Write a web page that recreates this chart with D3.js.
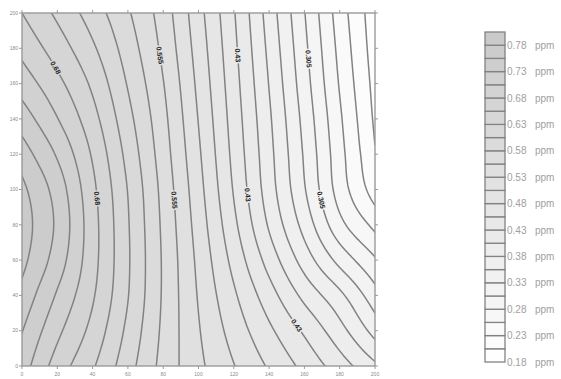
<!DOCTYPE html>
<html>
<head>
<meta charset="utf-8">
<script src="https://cdn.jsdelivr.net/npm/d3@7"></script>
<style>
  html, body { margin: 0; padding: 0; background: #fff; }
  svg { display: block; font-family: Arial, "Liberation Sans", sans-serif; }
</style>
</head>
<body>
<svg id="chart" width="561" height="379"></svg>
<script>
// Grid coordinates of the measured concentration field
const xValues = [0, 20, 40, 60, 80, 100, 120, 140, 160, 180, 200];
const yValues = [200, 180, 160, 140, 120, 100, 80, 60, 40, 20, 0];

// Concentration (ppm) at each grid node, one row per y value (top row first)
const row200 = [0.680, 0.650, 0.618, 0.583, 0.543, 0.489, 0.432, 0.369, 0.306, 0.243, 0.190];
const row180 = [0.698, 0.668, 0.634, 0.593, 0.549, 0.494, 0.436, 0.374, 0.311, 0.248, 0.193];
const row160 = [0.719, 0.687, 0.650, 0.603, 0.556, 0.499, 0.440, 0.379, 0.316, 0.253, 0.197];
const row140 = [0.743, 0.706, 0.664, 0.613, 0.562, 0.504, 0.444, 0.384, 0.322, 0.259, 0.201];
const row120 = [0.767, 0.727, 0.677, 0.622, 0.567, 0.509, 0.448, 0.388, 0.327, 0.264, 0.207];
const row100 = [0.786, 0.744, 0.686, 0.629, 0.572, 0.514, 0.453, 0.392, 0.332, 0.269, 0.218];
const row080 = [0.792, 0.750, 0.690, 0.632, 0.575, 0.519, 0.461, 0.402, 0.346, 0.288, 0.248];
const row060 = [0.787, 0.743, 0.689, 0.633, 0.577, 0.524, 0.472, 0.420, 0.369, 0.322, 0.283];
const row040 = [0.772, 0.727, 0.683, 0.631, 0.577, 0.528, 0.484, 0.441, 0.398, 0.361, 0.315];
const row020 = [0.756, 0.711, 0.672, 0.624, 0.575, 0.532, 0.495, 0.460, 0.426, 0.389, 0.346];
const row000 = [0.742, 0.694, 0.658, 0.615, 0.572, 0.536, 0.506, 0.477, 0.448, 0.417, 0.385];
const ppm = [row200, row180, row160, row140, row120, row100, row080, row060, row040, row020, row000];

// Contour levels (ppm); the last value closes the top band
const levels = [0.18, 0.205, 0.23, 0.255, 0.28, 0.305, 0.33, 0.355, 0.38, 0.405, 0.43,
                0.455, 0.48, 0.505, 0.53, 0.555, 0.58, 0.605, 0.63, 0.655, 0.68, 0.705,
                0.73, 0.755, 0.78, 0.805];

// Legend labels (every second level)
const legendValues = [0.78, 0.73, 0.68, 0.63, 0.58, 0.53, 0.48, 0.43, 0.38, 0.33, 0.28, 0.23, 0.18];
const legendText = ["0.78", "0.73", "0.68", "0.63", "0.58", "0.53", "0.48", "0.43", "0.38", "0.33", "0.28", "0.23", "0.18"];

// Axis ticks
const xTicks = [0, 20, 40, 60, 80, 100, 120, 140, 160, 180, 200];
const yTicks = [0, 20, 40, 60, 80, 100, 120, 140, 160, 180, 200];

// Labelled contours: level and the y position along the line where the label sits
const contourLabels = [
  { level: 0.68,  text: "0.68",  y: 169 },
  { level: 0.555, text: "0.555", y: 176 },
  { level: 0.43,  text: "0.43",  y: 176 },
  { level: 0.305, text: "0.305", y: 174 },
  { level: 0.68,  text: "0.68",  y: 95 },
  { level: 0.555, text: "0.555", y: 94 },
  { level: 0.43,  text: "0.43",  y: 97 },
  { level: 0.305, text: "0.305", y: 94 },
  { level: 0.43,  text: "0.43",  y: 23 }
];

const svg = d3.select("#chart");

const plot = { left: 22, right: 375, top: 13, bottom: 366 };
const x = d3.scaleLinear().domain([0, 200]).range([plot.left, plot.right]);
const y = d3.scaleLinear().domain([0, 200]).range([plot.bottom, plot.top]);

const fill = d3.scaleLinear().domain([0.18, 0.805]).range(["#ffffff", "#c9c9c9"]);
const bandColor = v => fill(v);

// --- smooth sampling of the grid (Catmull-Rom in both directions) ---
const nCols = xValues.length, nRows = yValues.length;
const gStep = xValues[1] - xValues[0];
function node(r, c) {
  if (c < 0) return 2 * node(r, 0) - node(r, 1);
  if (c > nCols - 1) return 2 * node(r, nCols - 1) - node(r, nCols - 2);
  if (r < 0) return 2 * node(0, c) - node(1, c);
  if (r > nRows - 1) return 2 * node(nRows - 1, c) - node(nRows - 2, c);
  return ppm[r][c];
}
function cr(p0, p1, p2, p3, t) {
  return p1 + 0.5 * t * (p2 - p0 + t * (2 * p0 - 5 * p1 + 4 * p2 - p3 + t * (3 * (p1 - p2) + p3 - p0)));
}
function field(xd, yd) {
  const gx = (xd - xValues[0]) / gStep;
  const gy = (yValues[0] - yd) / gStep;
  const ix = Math.max(0, Math.min(nCols - 2, Math.floor(gx)));
  const iy = Math.max(0, Math.min(nRows - 2, Math.floor(gy)));
  const tx = gx - ix, ty = gy - iy;
  const rows = [];
  for (let k = -1; k <= 2; k++) {
    rows.push(cr(node(iy + k, ix - 1), node(iy + k, ix), node(iy + k, ix + 1), node(iy + k, ix + 2), tx));
  }
  return cr(rows[0], rows[1], rows[2], rows[3], ty);
}

// fine raster for the contour generator
const N = 201, d = 200 / (N - 1);
const values = new Float64Array(N * N);
for (let r = 0; r < N; r++) {
  for (let c = 0; c < N; c++) {
    values[r * N + c] = field(c * d, 200 - r * d);
  }
}
const proj = d3.geoTransform({
  point(gx, gy) { this.stream.point(x((gx - 0.5) * d), y(200 - (gy - 0.5) * d)); }
});
const path = d3.geoPath(proj);
const contours = d3.contours().size([N, N]);

svg.append("clipPath").attr("id", "plotClip")
  .append("rect")
  .attr("x", plot.left).attr("y", plot.top)
  .attr("width", plot.right - plot.left).attr("height", plot.bottom - plot.top);

const g = svg.append("g").attr("clip-path", "url(#plotClip)");
g.append("rect")
  .attr("x", plot.left).attr("y", plot.top)
  .attr("width", plot.right - plot.left).attr("height", plot.bottom - plot.top)
  .attr("fill", "#ffffff");

const bandLevels = levels.slice(0, -1);
bandLevels.forEach((t, i) => {
  const geom = contours.contour(values, t);
  g.append("path").attr("d", path(geom))
    .attr("fill", bandColor((t + levels[i + 1]) / 2))
    .attr("stroke", "none");
});
bandLevels.forEach(t => {
  const geom = contours.contour(values, t);
  g.append("path").attr("d", path(geom))
    .attr("fill", "none")
    .attr("stroke", "#828282")
    .attr("stroke-width", 1.5);
});

// contour labels placed on the line where it crosses the requested y
contourLabels.forEach(lb => {
  let xd = null;
  for (let xi = 0; xi < 200; xi += 0.25) {
    const a = field(xi, lb.y) - lb.level, b = field(xi + 0.25, lb.y) - lb.level;
    if (a === 0 || a * b < 0) { xd = xi + 0.25 * a / (a - b); break; }
  }
  if (xd === null) return;
  const e = 0.5;
  const gxv = (field(xd + e, lb.y) - field(xd - e, lb.y)) / (x(xd + e) - x(xd - e));
  const gyv = (field(xd, lb.y + e) - field(xd, lb.y - e)) / (y(lb.y + e) - y(lb.y - e));
  // tangent perpendicular to the gradient, pointing down the page
  let tx = -gyv, ty = gxv;
  if (ty < 0) { tx = -tx; ty = -ty; }
  const ang = Math.atan2(ty, tx) * 180 / Math.PI;
  g.append("text")
    .attr("transform", `translate(${x(xd)},${y(lb.y)}) rotate(${ang})`)
    .attr("text-anchor", "middle")
    .attr("dy", "0.35em")
    .attr("font-size", 7)
    .attr("font-weight", "bold")
    .attr("fill", "#222")
    .attr("stroke", bandColor(lb.level))
    .attr("stroke-width", 3)
    .attr("paint-order", "stroke")
    .text(lb.text);
});

// frame and ticks
const axisColor = "#9a9a9a";
svg.append("rect")
  .attr("x", plot.left).attr("y", plot.top)
  .attr("width", plot.right - plot.left).attr("height", plot.bottom - plot.top)
  .attr("fill", "none").attr("stroke", axisColor).attr("stroke-width", 1.4);

const ticks = svg.append("g").attr("stroke", axisColor).attr("stroke-width", 1);
xTicks.forEach(v => {
  ticks.append("line").attr("x1", x(v)).attr("x2", x(v)).attr("y1", plot.bottom).attr("y2", plot.bottom + 3);
  ticks.append("line").attr("x1", x(v)).attr("x2", x(v)).attr("y1", plot.top).attr("y2", plot.top - 3);
});
yTicks.forEach(v => {
  ticks.append("line").attr("y1", y(v)).attr("y2", y(v)).attr("x1", plot.left).attr("x2", plot.left - 3);
  ticks.append("line").attr("y1", y(v)).attr("y2", y(v)).attr("x1", plot.right).attr("x2", plot.right + 3);
});

svg.append("g").selectAll("text").data(xTicks).join("text")
  .attr("x", d => x(d)).attr("y", plot.bottom + 10)
  .attr("text-anchor", "middle").attr("font-size", 5).attr("fill", "#8a8a8a")
  .text(d => d);
svg.append("g").selectAll("text").data(yTicks).join("text")
  .attr("x", plot.left - 4).attr("y", d => y(d)).attr("dy", "0.35em")
  .attr("text-anchor", "end").attr("font-size", 5).attr("fill", "#8a8a8a")
  .text(d => d);

// legend
const legend = { x: 485, w: 20, top: 32, bottom: 362 };
const ly = d3.scaleLinear().domain([0.18, 0.805]).range([legend.bottom, legend.top]);
const lg = svg.append("g");
bandLevels.forEach((t, i) => {
  lg.append("rect")
    .attr("x", legend.x).attr("y", ly(levels[i + 1]))
    .attr("width", legend.w).attr("height", ly(t) - ly(levels[i + 1]))
    .attr("fill", bandColor((t + levels[i + 1]) / 2))
    .attr("stroke", "#828282").attr("stroke-width", 1.3);
});
legendValues.forEach((v, i) => {
  lg.append("text")
    .attr("x", legend.x + legend.w + 2).attr("y", ly(v)).attr("dy", "0.35em")
    .attr("font-size", 10).attr("fill", "#a0a0a0")
    .text(legendText[i]);
  lg.append("text")
    .attr("x", legend.x + legend.w + 30).attr("y", ly(v)).attr("dy", "0.35em")
    .attr("font-size", 10).attr("fill", "#a0a0a0")
    .text("ppm");
});
</script>
</body>
</html>
